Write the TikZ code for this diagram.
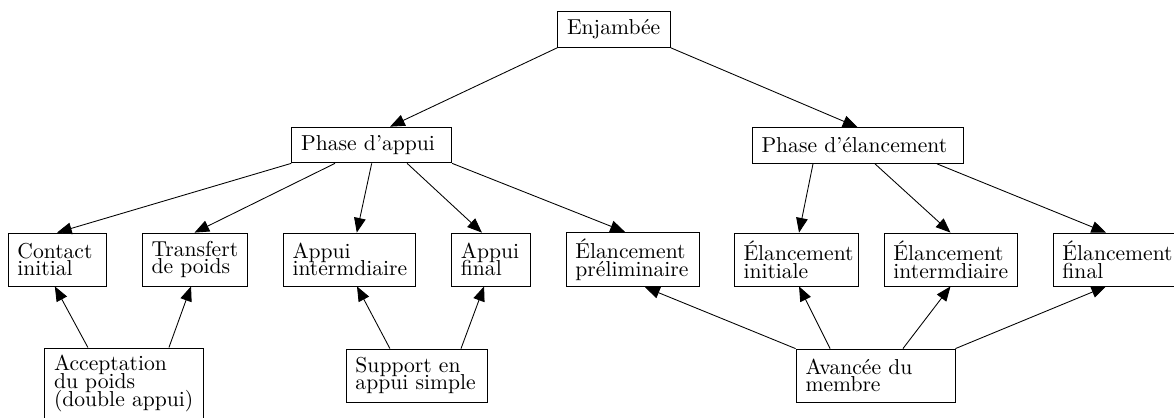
\documentclass[tikz,border=0pt]{standalone}
\usepackage{fontspec}
\usetikzlibrary{arrows.meta}
\usetikzlibrary{positioning}
\newcommand{\boxfont}{\fontsize{10pt}{8.2pt}\selectfont\lineskiplimit=-16000pt\relax}

\begin{document}
\begin{tikzpicture}[x=0.463pt, y=-0.463pt,
box/.style={draw, align=left, inner xsep=4.4pt, inner ysep=3pt, font=\boxfont},
one/.style={box, minimum height=16.6pt},
two/.style={box, minimum height=24.5pt},
three/.style={box, minimum height=33pt},
link/.style={-{Triangle[length=6.8pt, width=5.4pt]}}]
\useasboundingbox (0,0) rectangle (1174,417);
\node[one, text width=43.5pt] (enj) at (614,29.5) {Enjambée};
\node[one, text width=65.3pt] (appui) at (371.7,145) {Phase d'appui};
\node[one, text width=88.9pt] (elan) at (857.5,145.5) {Phase d'élancement};
\node[two, text width=36.6pt] (ci) at (57,259.5) {Contact\\initial};
\node[two, text width=39.8pt] (tp) at (194.5,259.5) {Transfert\\de poids};
\node[two, text width=52.3pt] (ai) at (349,259.5) {Appui\\intermdiaire};
\node[two, text width=27.8pt] (af) at (491,259.5) {Appui\\final};
\node[two, text width=52.8pt] (ep) at (632.5,259.5) {Élancement\\préliminaire};
\node[two, text width=48.6pt] (ein) at (796,259.5) {Élancement\\initiale};
\node[two, text width=52.8pt] (eim) at (950.5,259.5) {Élancement\\intermdiaire};
\node[two, text width=52.8pt] (ef) at (1119.5,259.5) {Élancement\\final};
\node[three, text width=64.8pt] (acc) at (124,383.6) {Acceptation\\du poids\\(double appui)};
\node[two, text width=56.5pt] (sup) at (416.5,375.5) {Support en\\appui simple};
\node[two, text width=64.8pt] (ava) at (875.5,375.5) {Avancée du\\membre};
\draw[link] (enj.south west) -- ([xshift=8.5pt]appui.north);
\draw[link] (enj.south east) -- (elan.north);
\draw[link] (appui.south west) -- (ci.north);
\draw[link] ([xshift=-17pt]appui.south) -- (tp.north);
\draw[link] (appui.south) -- ([xshift=3.6pt]ai.north);
\draw[link] ([xshift=16.4pt]appui.south) -- ([xshift=-4.2pt]af.north);
\draw[link] (appui.south east) -- ([xshift=-3.5pt]ep.north);
\draw[link] ([xshift=-20.6pt]elan.south) -- ([xshift=1.4pt]ein.north);
\draw[link] ([xshift=8.1pt]elan.south) -- (eim.north);
\draw[link] ([xshift=36.8pt]elan.south) -- ([xshift=-6.2pt]ef.north);
\draw[link] ([xshift=-16.7pt]acc.north) -- ([xshift=-1pt]ci.south);
\draw[link] ([xshift=20.8pt]acc.north) -- ([xshift=-1.6pt]tp.south);
\draw[link] ([xshift=-12.3pt]sup.north) -- ([xshift=3.7pt]ai.south);
\draw[link] ([xshift=20.6pt]sup.north) -- ([xshift=-3.2pt]af.south);
\draw[link] (ava.north west) -- ([xshift=5.8pt]ep.south);
\draw[link] ([xshift=-21pt]ava.north) -- ([xshift=1.4pt]ein.south);
\draw[link] ([xshift=12.7pt]ava.north) -- (eim.south);
\draw[link] (ava.north east) -- ([xshift=-6.2pt]ef.south);
\end{tikzpicture}
\end{document}
